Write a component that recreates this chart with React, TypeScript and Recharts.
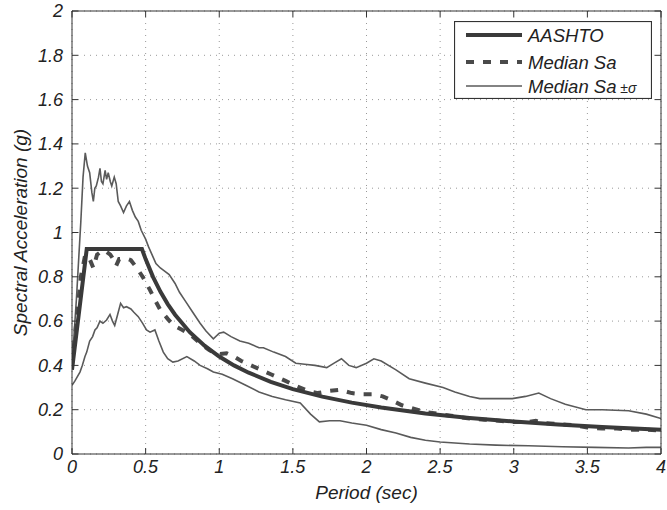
import { CartesianGrid, Line, LineChart, XAxis, YAxis } from "recharts";

// period (sec) and spectral acceleration (g)
const aashtoT = [0, 0.1, 0.475, 0.5, 0.55, 0.6, 0.65, 0.7, 0.8, 0.9, 1.0, 1.1, 1.2, 1.35, 1.5, 1.7, 1.9, 2.1, 2.4, 2.7, 3.0, 3.3, 3.6, 4.0];
const aashtoSa = [0.38, 0.925, 0.925, 0.88, 0.8, 0.733, 0.677, 0.629, 0.55, 0.489, 0.44, 0.4, 0.367, 0.326, 0.293, 0.259, 0.232, 0.21, 0.183, 0.163, 0.147, 0.133, 0.122, 0.11];

const medianT = [0, 0.03, 0.06, 0.09, 0.12, 0.145, 0.17, 0.19, 0.22, 0.26, 0.28, 0.3, 0.32, 0.35, 0.38, 0.4, 0.44, 0.48, 0.53, 0.56, 0.6, 0.65, 0.69, 0.75, 0.8, 0.87, 0.93, 0.98, 1.05, 1.1, 1.15, 1.25, 1.35, 1.45, 1.53, 1.6, 1.67, 1.75, 1.82, 1.9, 1.97, 2.05, 2.11, 2.18, 2.24, 2.32, 2.4, 2.5, 2.6, 2.7, 2.8, 2.9, 3.0, 3.1, 3.15, 3.2, 3.3, 3.4, 3.5, 3.6, 3.7, 3.8, 3.9, 4.0];
const medianSa = [0.4, 0.6, 0.8, 0.9, 0.88, 0.84, 0.9, 0.91, 0.92, 0.9, 0.88, 0.85, 0.88, 0.88, 0.88, 0.875, 0.84, 0.8, 0.74, 0.7, 0.65, 0.61, 0.58, 0.56, 0.54, 0.5, 0.47, 0.45, 0.455, 0.44, 0.42, 0.39, 0.36, 0.33, 0.305, 0.285, 0.275, 0.285, 0.29, 0.275, 0.27, 0.27, 0.26, 0.24, 0.22, 0.205, 0.19, 0.18, 0.17, 0.16, 0.155, 0.15, 0.145, 0.145, 0.15, 0.14, 0.135, 0.13, 0.12, 0.115, 0.115, 0.11, 0.11, 0.105];

const upperT = [0, 0.03, 0.06, 0.075, 0.09, 0.105, 0.12, 0.135, 0.145, 0.155, 0.165, 0.18, 0.19, 0.2, 0.21, 0.225, 0.235, 0.246, 0.26, 0.27, 0.287, 0.3, 0.314, 0.33, 0.35, 0.37, 0.39, 0.41, 0.43, 0.45, 0.47, 0.5, 0.52, 0.55, 0.57, 0.6, 0.62, 0.66, 0.7, 0.73, 0.77, 0.82, 0.87, 0.91, 0.96, 1.0, 1.03, 1.08, 1.14, 1.2, 1.27, 1.3, 1.37, 1.45, 1.52, 1.58, 1.65, 1.73, 1.78, 1.83, 1.88, 1.93, 2.0, 2.05, 2.1, 2.2, 2.29, 2.4, 2.52, 2.6, 2.7, 2.77, 2.85, 2.99, 3.08, 3.17, 3.25, 3.35, 3.49, 3.6, 3.78, 3.9, 4.0];
const upperSa = [0.4, 0.7, 1.05, 1.25, 1.36, 1.3, 1.27, 1.18, 1.14, 1.2, 1.21, 1.25, 1.29, 1.23, 1.22, 1.28, 1.24, 1.27, 1.23, 1.21, 1.25, 1.22, 1.14, 1.12, 1.09, 1.12, 1.14, 1.1, 1.07, 1.05, 1.01, 0.97, 0.935, 0.89, 0.86, 0.84, 0.83, 0.81, 0.77, 0.73, 0.69, 0.64, 0.59, 0.555, 0.52, 0.545, 0.55, 0.53, 0.51, 0.5, 0.48, 0.48, 0.46, 0.44, 0.41, 0.405, 0.4, 0.39, 0.41, 0.43, 0.4, 0.39, 0.41, 0.43, 0.42, 0.38, 0.34, 0.32, 0.3, 0.28, 0.26, 0.25, 0.25, 0.25, 0.26, 0.275, 0.25, 0.225, 0.2, 0.2, 0.195, 0.18, 0.16];

const lowerT = [0, 0.02, 0.054, 0.07, 0.088, 0.1, 0.12, 0.14, 0.156, 0.17, 0.19, 0.21, 0.235, 0.258, 0.275, 0.29, 0.31, 0.33, 0.35, 0.37, 0.4, 0.42, 0.45, 0.48, 0.506, 0.53, 0.563, 0.59, 0.62, 0.65, 0.685, 0.72, 0.78, 0.83, 0.87, 0.92, 0.96, 1.02, 1.09, 1.18, 1.27, 1.36, 1.45, 1.55, 1.62, 1.68, 1.75, 1.82, 1.9, 2.0, 2.1, 2.2, 2.3, 2.4, 2.5, 2.7, 2.88, 3.1, 3.33, 3.55, 3.78, 3.9, 4.0];
const lowerSa = [0.31, 0.33, 0.37, 0.4, 0.44, 0.46, 0.51, 0.53, 0.56, 0.57, 0.6, 0.59, 0.605, 0.63, 0.6, 0.58, 0.63, 0.68, 0.66, 0.665, 0.655, 0.64, 0.62, 0.59, 0.56, 0.55, 0.56, 0.51, 0.46, 0.43, 0.415, 0.42, 0.44, 0.42, 0.4, 0.385, 0.37, 0.36, 0.34, 0.31, 0.28, 0.26, 0.245, 0.23, 0.18, 0.145, 0.15, 0.15, 0.14, 0.13, 0.11, 0.095, 0.075, 0.062, 0.054, 0.045, 0.04, 0.037, 0.033, 0.03, 0.027, 0.03, 0.03];

const xTicks = [0, 0.5, 1, 1.5, 2, 2.5, 3, 3.5, 4];
const yTicks = [0, 0.2, 0.4, 0.6, 0.8, 1, 1.2, 1.4, 1.6, 1.8, 2];

const toRows = (t: number[], sa: number[]) => t.map((p, i) => ({ t: p, sa: sa[i] }));

const FONT = "'Liberation Sans', Arial, Helvetica, sans-serif";
const INK = "#222";
const FRAME = "#333";

function XTick({ x, y, payload }: any) {
    return (
        <text x={x} y={y} dy="0.71em" textAnchor="middle" fontFamily={FONT} fontStyle="italic" fontSize={18} fill={INK}>
            {payload.value}
        </text>
    );
}

function YTick({ x, y, payload }: any) {
    return (
        <text x={x} y={y} dy="0.355em" textAnchor="end" fontFamily={FONT} fontStyle="italic" fontSize={18} fill={INK}>
            {payload.value}
        </text>
    );
}

const NoTick = () => <g />;

function LegendBox() {
    const rows = [
        { label: "AASHTO", width: 4, dash: undefined as string | undefined, color: "#3a3a3a" },
        { label: "Median Sa", width: 4, dash: "8 9", color: "#4a4a4a" },
        { label: "Median Sa", width: 1.6, dash: undefined, color: "#5a5a5a", pm: true },
    ];
    const ys = [14, 41, 65];
    return (
        <svg
            width={198}
            height={78}
            style={{ position: "absolute", left: 454, top: 21, background: "#fff" }}
        >
            <rect x={0.5} y={0.5} width={197} height={77} fill="#fff" stroke={FRAME} strokeWidth={1.2} />
            {rows.map((r, i) => (
                <g key={i}>
                    <line x1={12} x2={68} y1={ys[i]} y2={ys[i]} stroke={r.color} strokeWidth={r.width} strokeDasharray={r.dash} />
                    <text x={74} y={ys[i]} dy="0.355em" fontFamily={FONT} fontStyle="italic" fontSize={18.5} fill={INK}>
                        {r.label}
                        {r.pm && <tspan fontSize={14}> ±σ</tspan>}
                    </text>
                </g>
            ))}
        </svg>
    );
}

export default function App() {
    return (
        <div style={{ position: "relative", width: 667, height: 510, background: "#fff" }}>
            <style>{"body{margin:0;background:#fff}"}</style>
            <LineChart width={667} height={510} margin={{ top: 10, right: 5, bottom: 26, left: 12 }}>
                <CartesianGrid stroke="#999" strokeDasharray="1 5" />
                <XAxis
                    type="number"
                    dataKey="t"
                    domain={[0, 4]}
                    ticks={xTicks}
                    allowDataOverflow
                    height={30}
                    tickSize={-6}
                    tickMargin={12}
                    stroke={FRAME}
                    tick={<XTick />}
                    label={{ value: "Period (sec)", position: "bottom", offset: 2, style: { fontFamily: FONT, fontStyle: "italic", fontSize: 19, fill: INK } }}
                />
                <XAxis
                    xAxisId="top"
                    orientation="top"
                    type="number"
                    dataKey="t"
                    domain={[0, 4]}
                    ticks={xTicks}
                    allowDataOverflow
                    height={1}
                    tickSize={-6}
                    stroke={FRAME}
                    tick={NoTick}
                />
                <YAxis
                    type="number"
                    domain={[0, 2]}
                    ticks={yTicks}
                    allowDataOverflow
                    width={60}
                    tickSize={-6}
                    tickMargin={15}
                    stroke={FRAME}
                    tick={<YTick />}
                    label={{ value: "Spectral Acceleration (g)", angle: -90, position: "insideLeft", offset: 8, style: { textAnchor: "middle", fontFamily: FONT, fontStyle: "italic", fontSize: 19, fill: INK } }}
                />
                <YAxis
                    yAxisId="right"
                    orientation="right"
                    type="number"
                    domain={[0, 2]}
                    ticks={yTicks}
                    allowDataOverflow
                    width={1}
                    tickSize={-6}
                    stroke={FRAME}
                    tick={NoTick}
                />
                <Line data={toRows(upperT, upperSa)} dataKey="sa" type="linear" stroke="#5a5a5a" strokeWidth={1.6} dot={false} isAnimationActive={false} />
                <Line data={toRows(lowerT, lowerSa)} dataKey="sa" type="linear" stroke="#5a5a5a" strokeWidth={1.6} dot={false} isAnimationActive={false} />
                <Line data={toRows(medianT, medianSa)} dataKey="sa" type="linear" stroke="#4a4a4a" strokeWidth={4} strokeDasharray="8 9" dot={false} isAnimationActive={false} />
                <Line data={toRows(aashtoT, aashtoSa)} dataKey="sa" type="linear" stroke="#3a3a3a" strokeWidth={4} dot={false} isAnimationActive={false} />
            </LineChart>
            <LegendBox />
        </div>
    );
}
